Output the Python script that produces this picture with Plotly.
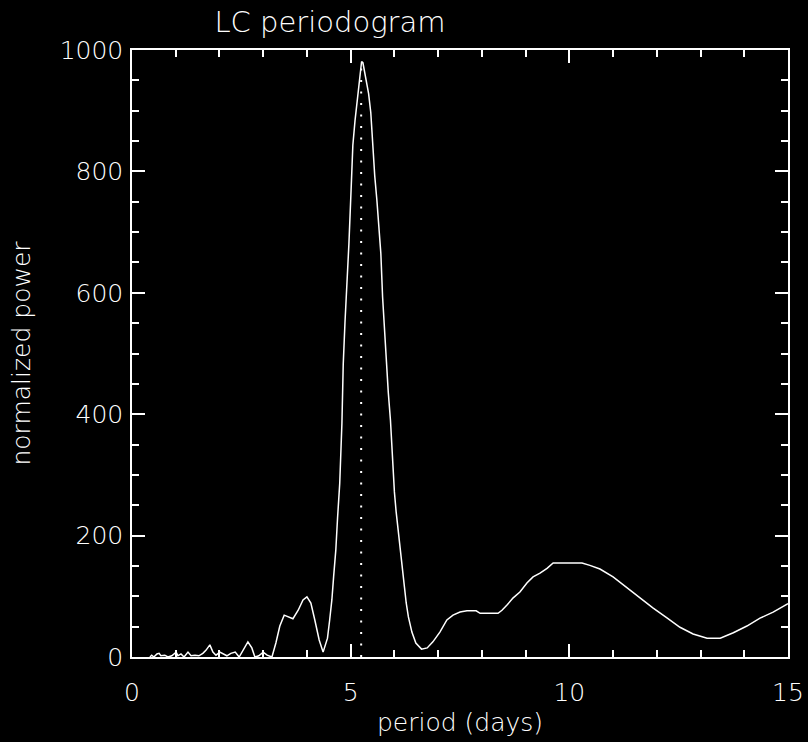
import plotly.graph_objects as go

# Periodogram curve (period in days, normalized power)
period = [0.41, 0.45, 0.50, 0.57, 0.62, 0.66, 0.75, 0.82, 0.91, 1.01, 1.05, 1.12, 1.19, 1.28,
          1.35, 1.44, 1.53, 1.62, 1.69, 1.78, 1.85, 1.92, 2.01, 2.10, 2.17, 2.26, 2.36, 2.45,
          2.54, 2.65, 2.74, 2.81, 2.90, 3.00, 3.09, 3.20, 3.29, 3.38, 3.48, 3.57, 3.68, 3.80,
          3.91, 4.00, 4.09, 4.18, 4.28, 4.37, 4.47, 4.52, 4.57, 4.61, 4.66, 4.70, 4.75, 4.80,
          4.83, 4.87, 4.92, 4.96, 5.01, 5.05, 5.10, 5.15, 5.19, 5.23, 5.25, 5.28, 5.30, 5.37,
          5.41, 5.46, 5.50, 5.55, 5.60, 5.64, 5.69, 5.73, 5.78, 5.82, 5.86, 5.91, 5.95, 6.00,
          6.04, 6.09, 6.14, 6.18, 6.23, 6.27, 6.32, 6.40, 6.49, 6.62, 6.75, 6.88, 7.04, 7.20,
          7.34, 7.50, 7.66, 7.87, 7.96, 8.37, 8.46, 8.58, 8.71, 8.87, 9.03, 9.17, 9.33, 9.49,
          9.63, 9.83, 10.29, 10.47, 10.70, 11.00, 11.32, 11.62, 11.91, 12.24, 12.53, 12.83,
          13.15, 13.45, 13.75, 14.06, 14.36, 14.66, 14.93, 15.00]
power = [0, 3, 0, 5, 6, 2, 3, 0, 2, 8, 2, 5, 0, 8,
         2, 3, 2, 6, 11, 20, 8, 3, 8, 5, 2, 6, 8, 0,
         12, 25, 15, 0, 2, 8, 3, 0, 23, 51, 69, 66, 63, 77,
         94, 99, 89, 61, 28, 8, 31, 61, 94, 132, 176, 229, 286, 385,
         482, 551, 619, 681, 770, 843, 884, 920, 945, 970, 981, 979, 970, 946,
         928, 897, 846, 793, 752, 708, 665, 593, 525, 481, 436, 390, 329, 272,
         239, 209, 176, 148, 115, 89, 66, 41, 23, 13, 15, 25, 41, 61,
         69, 74, 76, 76, 72, 72, 77, 86, 97, 107, 122, 132, 138, 146,
         155, 155, 155, 151, 145, 132, 114, 97, 81, 64, 49, 38,
         31, 31, 40, 51, 64, 74, 86, 88]

# Best period marker
best_period = [5.24, 5.24]
best_level = [0, 981]

x_range = [0, 15]
y_range = [0, 1000]
x_ticks = [0, 5, 10, 15]
y_ticks = [0, 200, 400, 600, 800, 1000]

FG = "#ffffff"
FONT = "DejaVu Sans"

fig = go.Figure()
fig.add_trace(go.Scatter(x=period, y=power, mode="lines",
                         line=dict(color=FG, width=1.5), showlegend=False,
                         hoverinfo="skip"))
fig.add_trace(go.Scatter(x=best_period, y=best_level, mode="lines",
                         line=dict(color=FG, width=2, dash="2px,9.5px"),
                         showlegend=False, hoverinfo="skip"))

axis_common = dict(
    showline=True, linecolor=FG, linewidth=1.5, mirror="allticks",
    ticks="inside", ticklen=13, tickwidth=1.5, tickcolor=FG,
    showgrid=False, zeroline=False,
    tickfont=dict(family=FONT, size=25, color=FG, weight=200),
)

fig.update_xaxes(range=x_range, tickvals=x_ticks, ticktext=[str(v) for v in x_ticks],
                 minor=dict(dtick=1, ticks="inside", ticklen=7, tickwidth=1.5,
                            tickcolor=FG, showgrid=False),
                 ticklabelstandoff=12,
                 title=dict(text="period (days)", standoff=8,
                            font=dict(family=FONT, size=25, color=FG, weight=200)),
                 **axis_common)
fig.update_yaxes(range=y_range, tickvals=y_ticks, ticktext=[str(v) for v in y_ticks],
                 minor=dict(dtick=50, ticks="inside", ticklen=7, tickwidth=1.5,
                            tickcolor=FG, showgrid=False),
                 ticklabelstandoff=2,
                 title=dict(text="normalized power", standoff=22,
                            font=dict(family=FONT, size=25, color=FG, weight=200)),
                 **axis_common)

fig.update_layout(
    width=808, height=742,
    paper_bgcolor="black", plot_bgcolor="black",
    margin=dict(l=132, r=20, t=50, b=85, autoexpand=False),
    title=dict(text="LC periodogram", x=330 / 808, xref="container", xanchor="center",
               y=1 - 22 / 742, yref="container", yanchor="middle",
               font=dict(family=FONT, size=29, color=FG, weight=200)),
    showlegend=False,
)

fig.write_html("out.html")
